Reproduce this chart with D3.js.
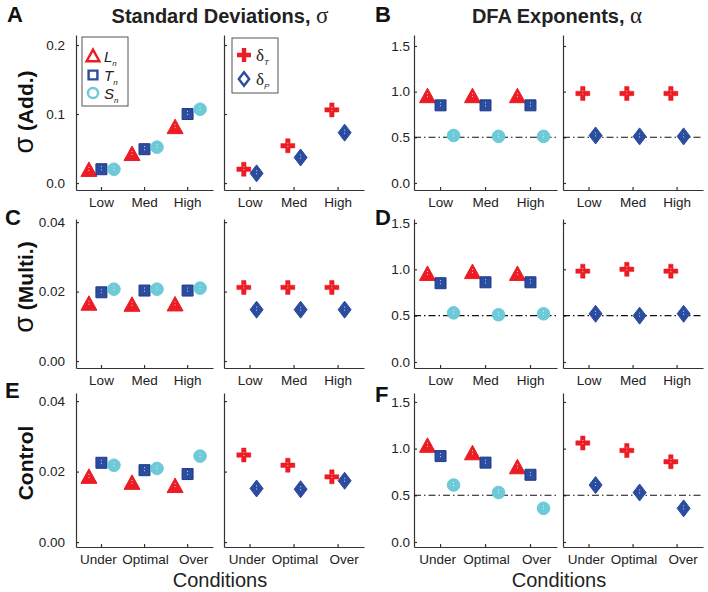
<!DOCTYPE html>
<html>
<head>
<meta charset="utf-8">
<script src="https://cdn.jsdelivr.net/npm/d3@7"></script>
<style>
  body { margin: 0; background: #fff; }
  svg { font-family: "Liberation Sans", Arial, sans-serif; }
</style>
</head>
<body>
<script>
// conditions on the x axis
var condStim = ["Low", "Med", "High"];
var condCtrl = ["Under", "Optimal", "Over"];

// standard deviations, additive noise
var sdAddL  = [0.019, 0.042, 0.081];
var sdAddT  = [0.020, 0.049, 0.100];
var sdAddS  = [0.020, 0.052, 0.107];
var sdAddDT = [0.020, 0.054, 0.106];
var sdAddDP = [0.014, 0.037, 0.073];
// standard deviations, multiplicative noise
var sdMulL  = [0.0165, 0.0162, 0.0163];
var sdMulT  = [0.0198, 0.0203, 0.0203];
var sdMulS  = [0.0207, 0.0207, 0.0210];
var sdMulDT = [0.0212, 0.0212, 0.0212];
var sdMulDP = [0.0148, 0.0148, 0.0148];
// standard deviations, control
var sdCtlL  = [0.0185, 0.0168, 0.0159];
var sdCtlT  = [0.0225, 0.0204, 0.0193];
var sdCtlS  = [0.0218, 0.0209, 0.0244];
var sdCtlDT = [0.0247, 0.0218, 0.0185];
var sdCtlDP = [0.0152, 0.0150, 0.0174];

// DFA exponents
var dfaAddL  = [0.95, 0.95, 0.95];
var dfaAddT  = [0.85, 0.85, 0.85];
var dfaAddS  = [0.52, 0.51, 0.51];
var dfaAddDT = [0.98, 0.98, 0.98];
var dfaAddDP = [0.52, 0.51, 0.51];
var dfaMulL  = [0.95, 0.97, 0.95];
var dfaMulT  = [0.85, 0.86, 0.86];
var dfaMulS  = [0.53, 0.51, 0.52];
var dfaMulDT = [0.98, 1.00, 0.98];
var dfaMulDP = [0.52, 0.50, 0.52];
var dfaCtlL  = [1.03, 0.95, 0.80];
var dfaCtlT  = [0.92, 0.85, 0.72];
var dfaCtlS  = [0.61, 0.53, 0.36];
var dfaCtlDT = [1.06, 0.98, 0.86];
var dfaCtlDP = [0.61, 0.53, 0.36];

// axis limits and ticks
var sdLim   = [[-0.0101, 0.2145], [-0.0020, 0.0409], [-0.0014, 0.0423]];
var sdTicks = [[0, 0.1, 0.2], [0, 0.02, 0.04], [0, 0.02, 0.04]];
var sdFmt   = [".1f", ".2f", ".2f"];
var dfaLim   = [[-0.077, 1.620], [-0.065, 1.543], [-0.054, 1.596]];
var dfaTicks = [0, 0.5, 1.0, 1.5];
var xLim = [0.42, 3.6];

var red = "#ec1c24", blue = "#2b4c9f", cyan = "#6dcad8";

var W = 708, H = 592;
var svg = d3.select("body").append("svg")
    .attr("width", W)
    .attr("height", H);

var rows = [
  {top: 35,  bottom: 190, cats: condStim, nudge: [0, 0, 0]},
  {top: 219, bottom: 368, cats: condStim, nudge: [0, 0, 0]},
  {top: 393, bottom: 547, cats: condCtrl, nudge: [-3, 1, 6]}
];
var cols = [
  {x0: 76,  w: 137},
  {x0: 224, w: 140},
  {x0: 414, w: 143},
  {x0: 563, w: 140}
];

function shapePath(kind) {
  if (kind == "tri") return "M0,-8L8,6.5L-8,6.5Z";
  if (kind == "dia") return "M0,-8.5L6.5,0L0,8.5L-6.5,0Z";
  if (kind == "sq") return "M-5.5,-5.5L5.5,-5.5L5.5,5.5L-5.5,5.5Z";
  if (kind == "circ") return d3.symbol(d3.symbolCircle, 125)();
  return "M-7,-2.2L-2.2,-2.2L-2.2,-7L2.2,-7L2.2,-2.2L7,-2.2L7,2.2L2.2,2.2L2.2,7L-2.2,7L-2.2,2.2L-7,2.2Z";
}
var colorOf = {tri: red, plus: red, sq: blue, dia: blue, circ: cyan};

function drawPanel(col, row, ylim, yticks, fmt, showLabels, gap, series, refLine) {
  var x = d3.scaleLinear().domain(xLim).range([col.x0, col.x0 + col.w]);
  var y = d3.scaleLinear().domain(ylim).range([row.bottom, row.top]);
  var g = svg.append("g");

  var ya = d3.axisLeft(y).tickValues(yticks).tickSizeInner(-3).tickSizeOuter(0).tickPadding(gap)
      .tickFormat(showLabels ? d3.format(fmt) : "");
  g.append("g").attr("class", "yax").attr("transform", "translate(" + col.x0 + ",0)").call(ya);

  var xa = d3.axisBottom(x).tickValues([1, 2, 3]).tickSizeInner(-3).tickSizeOuter(0).tickPadding(7)
      .tickFormat(function(d) { return row.cats[d - 1]; });
  g.append("g").attr("class", "xax").attr("transform", "translate(0," + row.bottom + ")").call(xa);

  g.selectAll(".domain, .tick line").attr("stroke", "#333").attr("stroke-width", 1.2);
  g.selectAll(".tick text").attr("fill", "#222")
      .attr("font-family", "Liberation Sans, Arial, sans-serif");
  g.selectAll(".yax .tick text").attr("font-size", 13.5);
  g.selectAll(".xax .tick text").attr("font-size", 13.5)
      .attr("dx", function(d) { return row.nudge[d - 1]; });

  if (refLine != null) {
    g.append("line")
      .attr("x1", col.x0).attr("x2", col.x0 + col.w)
      .attr("y1", y(refLine)).attr("y2", y(refLine))
      .attr("stroke", "#111").attr("stroke-width", 1.1)
      .attr("stroke-dasharray", "7,3,1.5,3");
  }

  series.forEach(function(s) {
    var m = g.selectAll(null).data(s.values).enter().append("g")
      .attr("transform", function(d, i) {
        return "translate(" + x(i + 1 + s.off) + "," + y(d) + ")";
      });
    m.append("path")
      .attr("d", shapePath(s.kind))
      .attr("fill", colorOf[s.kind])
      .attr("stroke", s.kind == "sq" ? "#1f3c8a" : colorOf[s.kind])
      .attr("stroke-width", s.kind == "plus" ? 0.5 : 1);
    // tiny white error bars inside the markers
    m.append("line")
      .attr("x1", 0).attr("x2", 0).attr("y1", -3).attr("y2", 3)
      .attr("stroke", "#fff").attr("stroke-width", 1)
      .attr("stroke-dasharray", "1,2").attr("opacity", 0.8);
  });
}

var sdSets = [
  [sdAddL, sdAddT, sdAddS, sdAddDT, sdAddDP],
  [sdMulL, sdMulT, sdMulS, sdMulDT, sdMulDP],
  [sdCtlL, sdCtlT, sdCtlS, sdCtlDT, sdCtlDP]
];
var dfaSets = [
  [dfaAddL, dfaAddT, dfaAddS, dfaAddDT, dfaAddDP],
  [dfaMulL, dfaMulT, dfaMulS, dfaMulDT, dfaMulDP],
  [dfaCtlL, dfaCtlT, dfaCtlS, dfaCtlDT, dfaCtlDP]
];

function leftSeries(v) {
  return [
    {values: v[0], off: -0.28, kind: "tri"},
    {values: v[1], off: 0.01, kind: "sq"},
    {values: v[2], off: 0.30, kind: "circ"}
  ];
}
function rightSeries(v) {
  return [
    {values: v[3], off: -0.13, kind: "plus"},
    {values: v[4], off: 0.16, kind: "dia"}
  ];
}

rows.forEach(function(row, r) {
  drawPanel(cols[0], row, sdLim[r], sdTicks[r], sdFmt[r], true, 11, leftSeries(sdSets[r]), null);
  drawPanel(cols[1], row, sdLim[r], sdTicks[r], sdFmt[r], false, 11, rightSeries(sdSets[r]), null);
  drawPanel(cols[2], row, dfaLim[r], dfaTicks, ".1f", true, 4, leftSeries(dfaSets[r]), 0.5);
  drawPanel(cols[3], row, dfaLim[r], dfaTicks, ".1f", false, 4, rightSeries(dfaSets[r]), 0.5);
});

// panel letters
var letters = [["A", 7, 22], ["B", 375, 22], ["C", 5, 225], ["D", 375, 225], ["E", 5, 398], ["F", 375, 402]];
svg.selectAll(".letter").data(letters).enter().append("text")
  .attr("x", function(d) { return d[1]; })
  .attr("y", function(d) { return d[2]; })
  .attr("font-size", 22).attr("font-weight", "bold").attr("fill", "#111")
  .text(function(d) { return d[0]; });

// column titles
var t1 = svg.append("text").attr("x", 220).attr("y", 23).attr("text-anchor", "middle")
  .attr("font-size", 20).attr("font-weight", "bold").attr("fill", "#222");
t1.append("tspan").text("Standard Deviations, ");
t1.append("tspan").attr("font-weight", "normal").attr("font-family", "Liberation Serif, serif")
  .attr("font-size", 23).text("σ");
var t2 = svg.append("text").attr("x", 557).attr("y", 23).attr("text-anchor", "middle")
  .attr("font-size", 20).attr("font-weight", "bold").attr("fill", "#222");
t2.append("tspan").text("DFA Exponents, ");
t2.append("tspan").attr("font-weight", "normal").attr("font-family", "Liberation Serif, serif")
  .attr("font-size", 23).text("α");

// row labels
var rowLabels = [["σ", " (Add.)", 112], ["σ", " (Multi.)", 287], ["", "Control", 463]];
rowLabels.forEach(function(d) {
  var t = svg.append("text")
    .attr("transform", "translate(33," + d[2] + ") rotate(-90)")
    .attr("text-anchor", "middle")
    .attr("font-size", 21).attr("font-weight", "bold").attr("fill", "#111");
  if (d[0]) t.append("tspan").attr("font-weight", "normal").attr("font-size", 27).text(d[0]);
  t.append("tspan").text(d[1]);
});

// x axis titles
[220, 559].forEach(function(cx) {
  svg.append("text").attr("x", cx).attr("y", 587).attr("text-anchor", "middle")
    .attr("font-size", 20).attr("fill", "#222").text("Conditions");
});

// legends
function legend(x0, y0, w, h, items) {
  var g = svg.append("g");
  g.append("rect").attr("x", x0).attr("y", y0).attr("width", w).attr("height", h)
    .attr("fill", "#fff").attr("stroke", "#555").attr("stroke-width", 1);
  items.forEach(function(it) {
    var m = g.append("path").attr("transform", "translate(" + it.mx + "," + it.my + ")")
      .attr("d", shapePath(it.kind));
    if (it.kind == "plus") {
      m.attr("fill", red);
    } else {
      m.attr("fill", "#fff").attr("stroke", colorOf[it.kind]).attr("stroke-width", 3)
        .attr("transform", "translate(" + it.mx + "," + it.my + ") scale(0.8)");
    }
    var t = g.append("text").attr("x", it.tx).attr("y", it.my + 6).attr("fill", "#222");
    if (it.greek) {
      t.append("tspan").attr("font-family", "Liberation Serif, serif").attr("font-size", 17).text(it.main);
    } else {
      t.append("tspan").attr("font-style", "italic").attr("font-size", 15).text(it.main);
    }
    t.append("tspan").attr("font-style", "italic").attr("font-size", 8).attr("dy", 4).text(it.sub);
  });
}
legend(82, 37, 46, 69, [
  {kind: "tri",  mx: 93, my: 56, tx: 104, main: "L", sub: "n"},
  {kind: "sq",   mx: 93, my: 75, tx: 104, main: "T", sub: "n"},
  {kind: "circ", mx: 93, my: 93, tx: 104, main: "S", sub: "n"}
]);
legend(232, 38, 46, 55, [
  {kind: "plus", mx: 244, my: 55, tx: 256, main: "δ", sub: "T", greek: true},
  {kind: "dia",  mx: 244, my: 79, tx: 256, main: "δ", sub: "P", greek: true}
]);
</script>
</body>
</html>
